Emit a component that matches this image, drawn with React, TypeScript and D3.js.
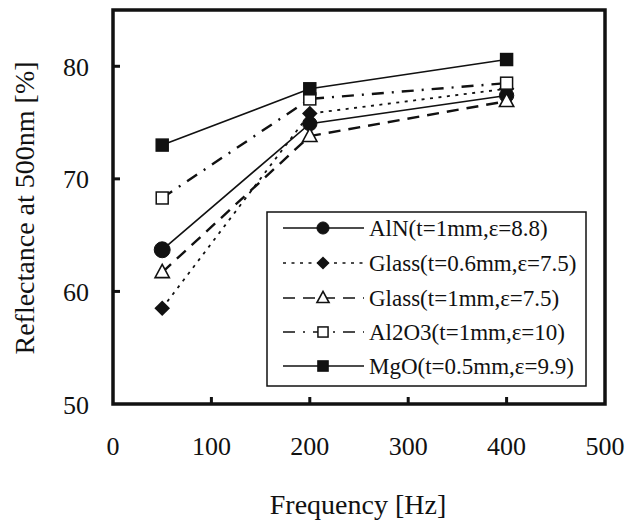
import React from "react";
import * as d3 from "d3";

const frequencies = [50, 200, 400];
const seriesNames = [
  "AlN(t=1mm,ε=8.8)",
  "Glass(t=0.6mm,ε=7.5)",
  "Glass(t=1mm,ε=7.5)",
  "Al2O3(t=1mm,ε=10)",
  "MgO(t=0.5mm,ε=9.9)",
];
const alnValues = [63.7, 74.9, 77.4];
const glass06Values = [58.5, 75.8, 78.0];
const glass1Values = [61.7, 73.8, 76.9];
const al2o3Values = [68.3, 77.1, 78.5];
const mgoValues = [73.0, 78.0, 80.6];
const xTicks = [0, 100, 200, 300, 400, 500];
const yTicks = [50, 60, 70, 80];

type Marker = "circle" | "diamond" | "triangle" | "square-open" | "square";
const styles: { dash: string; width: number; marker: Marker }[] = [
  { dash: "", width: 1.6, marker: "circle" },
  { dash: "3,5.5", width: 1.8, marker: "diamond" },
  { dash: "12,8", width: 2.4, marker: "triangle" },
  { dash: "12,8,2,8", width: 2.4, marker: "square-open" },
  { dash: "", width: 1.6, marker: "square" },
];
const allValues = [alnValues, glass06Values, glass1Values, al2o3Values, mgoValues];

const L = 113, R = 605, T = 10, B = 404;
const x = d3.scaleLinear().domain([0, 500]).range([L, R]);
const y = d3.scaleLinear().domain([50, 85]).range([B, T]);
const font = "'Liberation Serif', 'Times New Roman', serif";

function MarkerShape({ kind, cx, cy, s }: { kind: Marker; cx: number; cy: number; s: number }) {
  if (kind === "circle") return <circle cx={cx} cy={cy} r={s * 0.55} fill="#111" stroke="#111" />;
  if (kind === "diamond") {
    const r = s * 0.6;
    return <path d={`M${cx},${cy - r}L${cx + r},${cy}L${cx},${cy + r}L${cx - r},${cy}Z`} fill="#111" />;
  }
  if (kind === "triangle") {
    const r = s * 0.55;
    return (
      <path
        d={`M${cx},${cy - r * 1.1}L${cx + r},${cy + r * 0.75}L${cx - r},${cy + r * 0.75}Z`}
        fill="#fff"
        stroke="#111"
        strokeWidth={1.6}
      />
    );
  }
  const h = s * 0.46;
  return (
    <rect
      x={cx - h}
      y={cy - h}
      width={2 * h}
      height={2 * h}
      fill={kind === "square" ? "#111" : "#fff"}
      stroke="#111"
      strokeWidth={1.5}
    />
  );
}

export default function App() {
  const line = d3
    .line<number>()
    .x((_, i) => x(frequencies[i]))
    .y((d) => y(d));
  const legendRows = [228, 263, 298, 332, 366];
  return (
    <svg width={640} height={524} style={{ display: "block", position: "absolute", left: 0, top: 0 }}>
      <rect width={640} height={524} fill="#fff" />
      {allValues.map((vals, i) => (
        <path
          key={"l" + i}
          d={line(vals) || ""}
          fill="none"
          stroke="#111"
          strokeWidth={styles[i].width}
          strokeDasharray={styles[i].dash}
        />
      ))}
      {allValues.map((vals, i) =>
        vals.map((v, j) => (
          <MarkerShape key={"m" + i + "-" + j} kind={styles[i].marker} cx={x(frequencies[j])} cy={y(v)} s={j === 0 && i === 0 ? 14.5 : 13} />
        ))
      )}
      <rect x={L} y={T} width={R - L} height={B - T} fill="none" stroke="#111" strokeWidth={3.5} />
      {xTicks.slice(1, -1).map((t) => (
        <line key={"xt" + t} x1={x(t)} x2={x(t)} y1={B} y2={B - 7} stroke="#111" strokeWidth={3} />
      ))}
      {yTicks.slice(1).map((t) => (
        <line key={"yt" + t} x1={L} x2={L + 7} y1={y(t)} y2={y(t)} stroke="#111" strokeWidth={3} />
      ))}
      {xTicks.map((t) => (
        <text key={"xl" + t} x={x(t)} y={455} textAnchor="middle" fontFamily={font} fontSize={26} fill="#111">
          {t}
        </text>
      ))}
      {yTicks.map((t) => (
        <text key={"yl" + t} x={89} y={y(t) + 9.5} textAnchor="end" fontFamily={font} fontSize={26} fill="#111">
          {t}
        </text>
      ))}
      <text x={358} y={514} textAnchor="middle" fontFamily={font} fontSize={28} fill="#111">
        Frequency [Hz]
      </text>
      <text
        transform={`translate(34,208) rotate(-90)`}
        textAnchor="middle"
        fontFamily={font}
        fontSize={28}
        fill="#111"
      >
        Reflectance at 500nm [%]
      </text>
      <rect x={267} y={212} width={319} height={174} fill="#fff" stroke="#111" strokeWidth={1.5} />
      {seriesNames.map((name, i) => (
        <g key={"lg" + i}>
          <line
            x1={283}
            x2={364}
            y1={legendRows[i]}
            y2={legendRows[i]}
            stroke="#111"
            strokeWidth={1.6}
            strokeDasharray={styles[i].dash}
          />
          <MarkerShape kind={styles[i].marker} cx={323} cy={legendRows[i]} s={11} />
          <text x={369} y={legendRows[i] + 8} fontFamily={font} fontSize={23} fill="#111">
            {name}
          </text>
        </g>
      ))}
    </svg>
  );
}
